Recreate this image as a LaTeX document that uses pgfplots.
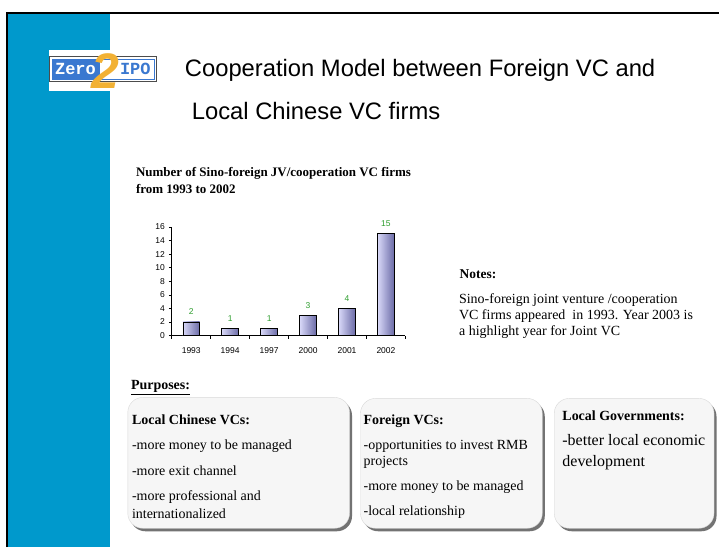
\documentclass[border=0pt]{standalone}
\usepackage{fontspec}
\setmainfont{Liberation Serif}
\newfontfamily\arial{Liberation Sans}
\newfontfamily\mono{Liberation Mono}
\usepackage{pgfplots}
\pgfplotsset{compat=1.18}
\definecolor{band}{HTML}{0099CC}
\definecolor{logoblue}{HTML}{3A78D0}
\definecolor{gold}{HTML}{F2B134}
\definecolor{lblgreen}{HTML}{2E9E2E}
\definecolor{barL}{HTML}{D8D8F8}
\definecolor{barR}{HTML}{6A6AA6}
\definecolor{boxfill}{HTML}{F6F6F6}
\newcommand{\fs}[1]{\fontsize{#1bp}{#1bp}\selectfont}
\newcommand{\mybox}[4]{%
  \fill[black!55, rounded corners=15bp] (#1+2.5,#4-3) rectangle (#3+2.5,#2-3);
  \draw[fill=boxfill, draw=black!15, rounded corners=15bp] (#1,#4) rectangle (#3,#2);}
\pgfplotsset{mybar/.style={ybar, bar shift=0pt, draw=black, line width=0.7bp, left color=barL, right color=barR}}
\begin{document}
\begin{tikzpicture}[x=1bp,y=1bp]
\path[fill=white] (0,0) rectangle (720,548);
\fill[band] (7,0) rectangle (110,534.7);
\draw[line width=2bp] (7,0) -- (7,534.7) -- (720,534.7);
% logo
\fill[white] (49,457) rectangle (110,498);
\draw[fill=white, draw=black!70, line width=1bp] (49.5,466) rectangle (157,491);
\fill[logoblue] (52,468.5) rectangle (100,488.5);
\draw[logoblue, line width=0.8bp] (52,468.5) rectangle (154.5,488.5);
\node[anchor=base west, inner sep=0, text=white, font=\mono\bfseries\fs{17}] at (55,473) {Zero};
\node[anchor=base west, inner sep=0, text=logoblue, font=\mono\bfseries\fs{17}] at (120,473) {IPO};
\node[text=gold, inner sep=0, font=\arial\bfseries\itshape\fs{50}] at (106,477) {2};
% title
\node[anchor=base west, inner sep=0, font=\arial\fs{23.8}] at (185,471) {Cooperation Model between Foreign VC and};
\node[anchor=base west, inner sep=0, font=\arial\fs{23.8}] at (192,428) {Local Chinese VC firms};
% chart title
\node[anchor=base west, inner sep=0, font=\bfseries\fs{13}] at (136,371.3) {Number of Sino-foreign JV/cooperation VC firms};
\node[anchor=base west, inner sep=0, font=\bfseries\fs{13}] at (136,354) {from 1993 to 2002};
\begin{axis}[
  at={(172bp,212bp)}, anchor=south west, scale only axis,
  width=234bp, height=108.7bp,
  xmin=-0.5, xmax=5.5, ymin=0, ymax=16,
  axis x line*=bottom, axis y line*=left,
  bar width=16.7bp,
  xtick={0,...,5}, xticklabels={1993,1994,1997,2000,2001,2002},
  minor xtick={-0.5,0.5,1.5,2.5,3.5,4.5,5.5},
  ytick={0,2,...,16},
  tick align=outside, major tick length=3bp, minor tick length=3bp,
  tick style={black, line width=0.6bp},
  major x tick style={draw=none},
  axis line style={line width=0.6bp},
  tick label style={font=\arial\fs{8.5}},
  /pgf/number format/assume math mode=true,
  yticklabel style={xshift=-0.5bp},
  xticklabel style={yshift=-5.5bp},
  nodes near coords,
  every node near coord/.append style={font=\arial\fs{8.5}, text=lblgreen, anchor=center, yshift=10bp},
  clip=false,
]
\addplot[mybar] coordinates {(0,2)};
\addplot[mybar] coordinates {(1,1)};
\addplot[mybar] coordinates {(2,1)};
\addplot[mybar] coordinates {(3,3)};
\addplot[mybar] coordinates {(4,4)};
\addplot[mybar] coordinates {(5,15)};
\end{axis}
% notes
\node[anchor=base west, inner sep=0, font=\bfseries\fs{13.5}] at (460,269.3) {Notes:};
\node[anchor=base west, inner sep=0, font=\fs{14}] at (459.5,243.7) {Sino-foreign joint venture /cooperation};
\node[anchor=base west, inner sep=0, font=\fs{14}] at (459.5,228) {VC firms appeared\ \ in 1993. Year 2003 is};
\node[anchor=base west, inner sep=0, font=\fs{14}] at (459.5,212.3) {a highlight year for Joint VC};
% purposes
\node[anchor=base west, inner sep=0, font=\bfseries\fs{14}] at (131,158) {\underline{Purposes:}};
\mybox{128}{150}{350}{19}
\mybox{361}{149}{543}{19}
\mybox{555}{149}{715}{19}
\node[anchor=base west, inner sep=0, font=\bfseries\fs{14}] at (132,123) {Local Chinese VCs:};
\node[anchor=base west, inner sep=0, font=\fs{14}] at (132,97.5) {-more money to be managed};
\node[anchor=base west, inner sep=0, font=\fs{14}] at (132,71.5) {-more exit channel};
\node[anchor=base west, inner sep=0, font=\fs{14}] at (132,46.5) {-more professional and};
\node[anchor=base west, inner sep=0, font=\fs{14}] at (132,29) {internationalized};
\node[anchor=base west, inner sep=0, font=\bfseries\fs{14}] at (364,123) {Foreign VCs:};
\node[anchor=base west, inner sep=0, font=\fs{14}] at (364,97.5) {-opportunities to invest RMB};
\node[anchor=base west, inner sep=0, font=\fs{14}] at (364,81.5) {projects};
\node[anchor=base west, inner sep=0, font=\fs{14}] at (364,56.5) {-more money to be managed};
\node[anchor=base west, inner sep=0, font=\fs{14}] at (364,31.5) {-local relationship};
\node[anchor=base west, inner sep=0, font=\bfseries\fs{14}] at (563,127) {Local Governments:};
\node[anchor=base west, inner sep=0, font=\fs{16}] at (563,101.5) {-better local economic};
\node[anchor=base west, inner sep=0, font=\fs{16}] at (563,81) {development};
\end{tikzpicture}
\end{document}
